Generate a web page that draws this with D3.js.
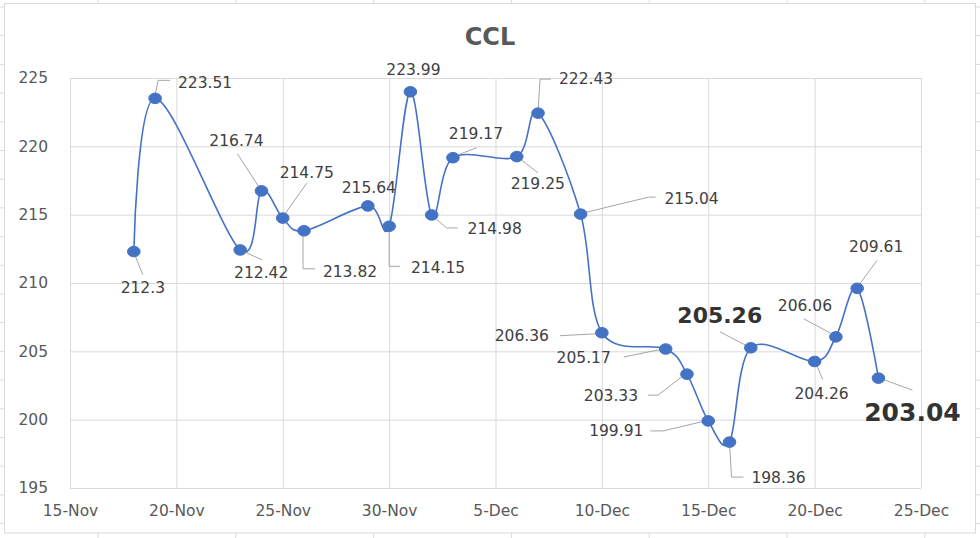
<!DOCTYPE html>
<html>
<head>
<meta charset="utf-8">
<script src="https://cdn.jsdelivr.net/npm/d3@7"></script>
<style>
  html, body { margin: 0; padding: 0; background: #fff; }
  svg { display: block; }
</style>
</head>
<body>
<svg id="chart" width="980" height="538"></svg>
<script>
// ---------- data ----------
const title = "CCL";
const dates = ["2021-11-18","2021-11-19","2021-11-23","2021-11-24","2021-11-25","2021-11-26",
  "2021-11-29","2021-11-30","2021-12-01","2021-12-02","2021-12-03","2021-12-06","2021-12-07",
  "2021-12-09","2021-12-10","2021-12-13","2021-12-14","2021-12-15","2021-12-16","2021-12-17",
  "2021-12-20","2021-12-21","2021-12-22","2021-12-23"];
const values = [212.3, 223.51, 212.42, 216.74, 214.75, 213.82, 215.64, 214.15, 223.99, 214.98,
  219.17, 219.25, 222.43, 215.04, 206.36, 205.17, 203.33, 199.91, 198.36, 205.26, 204.26,
  206.06, 209.61, 203.04];
const labels = ["212.3","223.51","212.42","216.74","214.75","213.82","215.64","214.15","223.99",
  "214.98","219.17","219.25","222.43","215.04","206.36","205.17","203.33","199.91","198.36",
  "205.26","204.26","206.06","209.61","203.04"];
const xTickDates = ["2021-11-15","2021-11-20","2021-11-25","2021-11-30","2021-12-05",
  "2021-12-10","2021-12-15","2021-12-20","2021-12-25"];
const yTicks = [195, 200, 205, 210, 215, 220, 225];

// ---------- label layout (offsets from each point, px) ----------
const labelLayout = [
  {dx:9,   dy:36,  lead:[[0,1],[9,23]]},
  {dx:50,  dy:-16, lead:[[0,-3],[3,-18],[15,-18]]},
  {dx:21,  dy:22,  lead:[[0,0],[22,10]]},
  {dx:-25, dy:-50, lead:[[-24,-37],[-2,-3]]},
  {dx:24,  dy:-46, lead:[[0,-1],[24,-35]]},
  {dx:46,  dy:41,  lead:[[-1,1],[-1,38],[11,38]]},
  {dx:1,   dy:-19, lead:null},
  {dx:49,  dy:41,  lead:[[0,1],[0,40],[11,40]]},
  {dx:3,   dy:-22, lead:null},
  {dx:63,  dy:13,  lead:[[0,0],[15,13],[26,13]]},
  {dx:23,  dy:-24, lead:[[0,-1],[24,-10]]},
  {dx:21,  dy:27,  lead:[[0,0],[21,16]]},
  {dx:48,  dy:-35, lead:[[0,-2],[2,-34],[13,-34]]},
  {dx:111, dy:-16, lead:[[2,-1],[68,-17],[75,-17]]},
  {dx:-80, dy:3,   lead:[[-42,3],[-5,1]]},
  {dx:-82, dy:8,   lead:[[-42,8],[-3,0]]},
  {dx:-76, dy:21,  lead:[[-39,21],[-29,21],[-3,1]]},
  {dx:-92, dy:10,  lead:[[-58,10],[-45,10],[-3,0]]},
  {dx:49,  dy:35,  lead:[[0,1],[2,35],[14,35]]},
  {dx:-31, dy:-33, lead:[[-31,-16],[-4,-2]], big:22},
  {dx:7,   dy:32,  lead:[[1,1],[8,18]]},
  {dx:-31, dy:-31, lead:[[-32,-18],[-4,-3]]},
  {dx:19,  dy:-42, lead:[[0,-1],[20,-28]]},
  {dx:34,  dy:34,  lead:[[1,0],[34,12]], big:25}
];

// ---------- setup ----------
const parse = d3.timeParse("%Y-%m-%d");
const fmt = d3.timeFormat("%-d-%b");
const data = dates.map((d, i) => ({date: parse(d), value: values[i], label: labels[i], lay: labelLayout[i]}));

const svg = d3.select("#chart");
const W = 980, H = 538;
const plot = {left: 70, top: 78, right: 921, bottom: 488};

// spreadsheet cell grid peeking out around the chart
const sheet = svg.append("g").attr("stroke", "#dcdcdc").attr("stroke-width", 1);
const colXs = d3.range(98, W, 137.8);
const rowYs = d3.range(7, H, 28.7);
colXs.forEach(x => {
  sheet.append("line").attr("x1", x).attr("x2", x).attr("y1", 0).attr("y2", 3);
  sheet.append("line").attr("x1", x).attr("x2", x).attr("y1", 533).attr("y2", H);
});
rowYs.forEach(y => {
  sheet.append("line").attr("x1", 0).attr("x2", 4).attr("y1", y).attr("y2", y);
  sheet.append("line").attr("x1", 976).attr("x2", W).attr("y1", y).attr("y2", y);
});

// chart area
svg.append("rect").attr("x", 4.5).attr("y", 3.5).attr("width", 971).attr("height", 529.5)
  .attr("fill", "#fff").attr("stroke", "#d9d9d9");

const x = d3.scaleTime()
  .domain([parse(xTickDates[0]), parse(xTickDates[xTickDates.length - 1])])
  .range([plot.left, plot.right]);
const y = d3.scaleLinear()
  .domain([yTicks[0], yTicks[yTicks.length - 1]])
  .range([plot.bottom, plot.top]);

const axisFont = "'DejaVu Sans', Verdana, sans-serif";

// y axis + horizontal grid
const gy = svg.append("g").attr("transform", `translate(${plot.left},0)`)
  .call(d3.axisLeft(y).tickValues(yTicks).tickSize(-(plot.right - plot.left)).tickPadding(22).tickFormat(d3.format("d")));
gy.select(".domain").remove();
gy.selectAll(".tick line").attr("stroke", "#d9d9d9").attr("stroke-width", 1);
gy.selectAll(".tick text").attr("fill", "#595959").style("font-family", axisFont).style("font-size", "15.5px");

// x axis + vertical grid
const gx = svg.append("g").attr("transform", `translate(0,${plot.bottom})`)
  .call(d3.axisBottom(x).tickValues(xTickDates.map(parse)).tickSize(-(plot.bottom - plot.top)).tickPadding(17).tickFormat(fmt));
gx.select(".domain").remove();
gx.selectAll(".tick line").attr("stroke", "#d9d9d9").attr("stroke-width", 1);
gx.selectAll(".tick text").attr("fill", "#595959").style("font-family", axisFont).style("font-size", "15.5px");

// title
svg.append("text").attr("x", 490).attr("y", 45).attr("text-anchor", "middle")
  .attr("fill", "#595959").style("font-family", axisFont).style("font-weight", "bold").style("font-size", "24px")
  .text(title);

// line
const line = d3.line().x(d => x(d.date)).y(d => y(d.value)).curve(d3.curveCardinal.tension(0));
svg.append("path").datum(data).attr("d", line)
  .attr("fill", "none").attr("stroke", "#4472C4").attr("stroke-width", 1.6);

// leader lines
svg.append("g").selectAll("polyline").data(data.filter(d => d.lay.lead)).join("polyline")
  .attr("points", d => d.lay.lead.map(p => [x(d.date) + p[0], y(d.value) + p[1]].join(",")).join(" "))
  .attr("fill", "none").attr("stroke", "#a6a6a6").attr("stroke-width", 1);

// markers
svg.append("g").selectAll("ellipse").data(data).join("ellipse")
  .attr("cx", d => x(d.date)).attr("cy", d => y(d.value))
  .attr("rx", 6.3).attr("ry", 5.3)
  .attr("fill", "#4472C4").attr("stroke", "#4472C4").attr("stroke-width", 1);

// labels
svg.append("g").selectAll("text").data(data).join("text")
  .attr("x", d => x(d.date) + d.lay.dx).attr("y", d => y(d.value) + d.lay.dy)
  .attr("dy", "0.36em").attr("text-anchor", "middle")
  .attr("fill", d => d.lay.big ? "#333333" : "#404040")
  .style("font-family", axisFont)
  .style("font-size", d => (d.lay.big || 15.5) + "px")
  .style("font-weight", d => d.lay.big ? "bold" : "normal")
  .text(d => d.label);
</script>
</body>
</html>
